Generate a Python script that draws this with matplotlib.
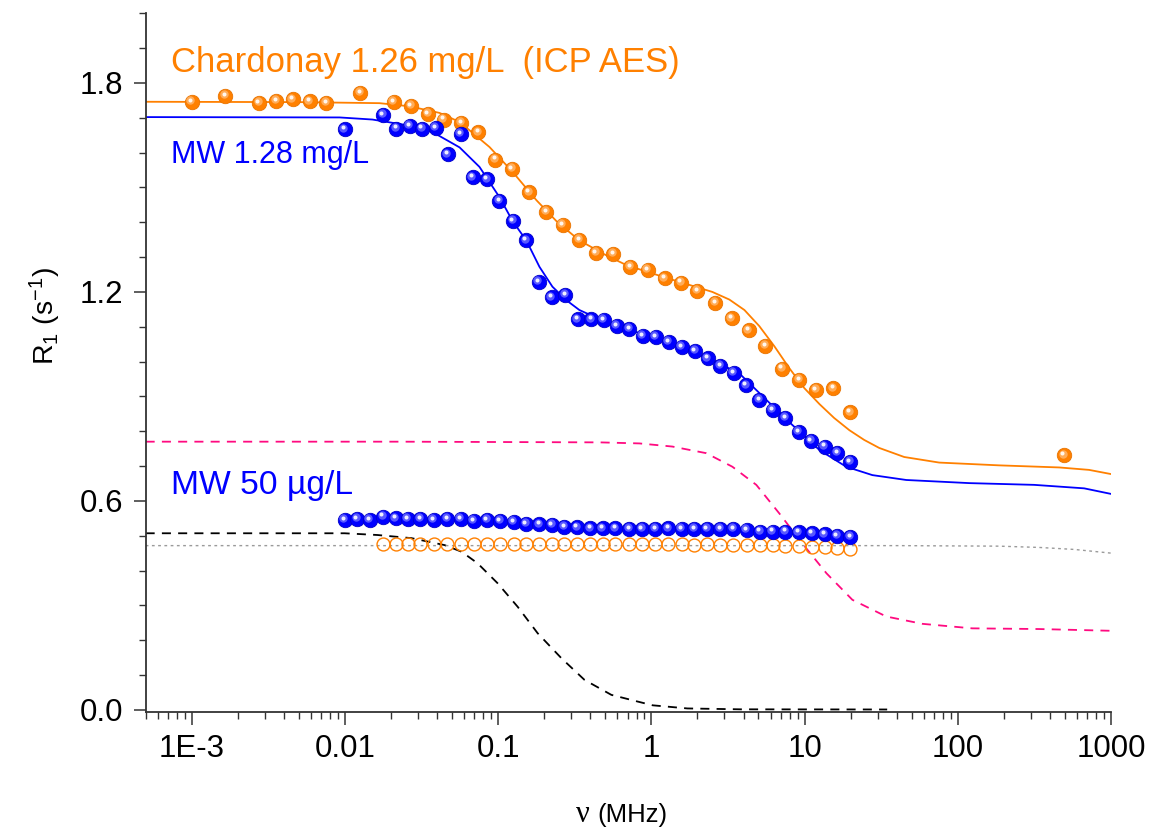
import matplotlib
matplotlib.use('Agg')
import matplotlib.pyplot as plt
from matplotlib.ticker import FixedLocator, FixedFormatter, MultipleLocator, LogLocator, NullFormatter
from matplotlib.transforms import offset_copy

plt.rcParams['font.family'] = ['Liberation Sans', 'DejaVu Sans']
plt.rcParams['mathtext.fontset'] = 'custom'
plt.rcParams['mathtext.rm'] = 'Liberation Sans'
plt.rcParams['mathtext.it'] = 'Liberation Sans:italic'

# ---------------- data ----------------
# Chardonay 1.26 mg/L (filled orange balls)
chard_f = [0.001, 0.00166, 0.00275, 0.00357, 0.00457, 0.00588, 0.00755, 0.0126, 0.0208,
           0.0270, 0.0348, 0.0440, 0.0574, 0.0743, 0.0959, 0.123, 0.159, 0.206, 0.264,
           0.339, 0.436, 0.565, 0.730, 0.946, 1.22, 1.56, 2.00, 2.61, 3.34, 4.32, 5.55,
           7.13, 9.23, 11.9, 15.4, 19.8, 494]
chard_r = [1.745, 1.762, 1.743, 1.748, 1.753, 1.747, 1.743, 1.771, 1.745, 1.734, 1.712,
           1.695, 1.686, 1.658, 1.580, 1.554, 1.486, 1.430, 1.392, 1.349, 1.312, 1.310,
           1.272, 1.263, 1.239, 1.227, 1.203, 1.169, 1.124, 1.090, 1.045, 0.980, 0.947,
           0.918, 0.923, 0.854, 0.731]

# MW 1.28 mg/L (filled blue balls)
mw_f = [0.00993, 0.0177, 0.0216, 0.0264, 0.0319, 0.0390, 0.0469, 0.0568, 0.0682, 0.0847,
        0.102, 0.125, 0.152, 0.184, 0.224, 0.274, 0.330, 0.405, 0.489, 0.594, 0.718, 0.877,
        1.07, 1.30, 1.58, 1.93, 2.33, 2.82, 3.44, 4.15, 5.06, 6.18, 7.48, 9.14, 11.0, 13.5,
        16.4, 19.8]
mw_r = [1.667, 1.709, 1.669, 1.676, 1.669, 1.671, 1.595, 1.653, 1.529, 1.523, 1.461, 1.404,
        1.348, 1.229, 1.184, 1.191, 1.121, 1.121, 1.119, 1.102, 1.093, 1.073, 1.071, 1.057,
        1.042, 1.031, 1.009, 0.988, 0.968, 0.932, 0.890, 0.862, 0.838, 0.798, 0.773, 0.756,
        0.737, 0.712]

# MW 50 ug/L (filled blue balls)
mw50_f = [0.00993, 0.0120, 0.0145, 0.0177, 0.0214, 0.0257, 0.0311, 0.0380, 0.0465, 0.0568,
          0.0693, 0.0847, 0.103, 0.126, 0.152, 0.186, 0.225, 0.270, 0.327, 0.400, 0.481,
          0.582, 0.719, 0.870, 1.06, 1.29, 1.58, 1.91, 2.31, 2.82, 3.43, 4.18, 5.12, 6.19,
          7.48, 9.14, 11.2, 13.5, 16.3, 19.9]
mw50_r = [0.545, 0.548, 0.545, 0.555, 0.550, 0.548, 0.548, 0.545, 0.548, 0.548, 0.542, 0.545,
          0.542, 0.539, 0.534, 0.533, 0.531, 0.526, 0.524, 0.521, 0.521, 0.521, 0.519, 0.519,
          0.519, 0.521, 0.519, 0.519, 0.519, 0.519, 0.519, 0.516, 0.512, 0.512, 0.512, 0.510,
          0.507, 0.504, 0.500, 0.496]

# open orange circles
open_f = [0.0177, 0.0214, 0.0257, 0.0311, 0.0380, 0.0465, 0.0568, 0.0693, 0.0847, 0.103,
          0.126, 0.152, 0.186, 0.225, 0.270, 0.327, 0.400, 0.481, 0.582, 0.719, 0.870, 1.06,
          1.29, 1.58, 1.91, 2.31, 2.82, 3.43, 4.18, 5.12, 6.19, 7.48, 9.14, 11.2, 13.5, 16.3,
          19.9]
open_r = [0.476, 0.476, 0.477, 0.476, 0.476, 0.475, 0.476, 0.476, 0.476, 0.476, 0.476, 0.476,
          0.475, 0.476, 0.476, 0.476, 0.475, 0.475, 0.476, 0.475, 0.475, 0.476, 0.475, 0.475,
          0.474, 0.475, 0.474, 0.474, 0.474, 0.473, 0.472, 0.471, 0.470, 0.469, 0.467, 0.465,
          0.463]

# fitted curves
fit_or_f = [5e-4, 0.00506, 0.0168, 0.0264, 0.0414, 0.0560, 0.0878, 0.124, 0.178, 0.244,
            0.339, 0.493, 0.687, 1.05, 1.52, 2.50, 3.23, 4.05, 5.06, 6.35, 7.95, 9.95,
            12.5, 15.6, 19.6, 24.5, 30.7, 44.7, 75.6, 186, 459, 719, 1000]
fit_or_r = [1.746, 1.745, 1.742, 1.733, 1.714, 1.688, 1.616, 1.545, 1.463, 1.400, 1.348,
            1.308, 1.277, 1.251, 1.229, 1.200, 1.178, 1.148, 1.102, 1.044, 0.981, 0.924,
            0.878, 0.838, 0.803, 0.775, 0.752, 0.726, 0.710, 0.702, 0.696, 0.689, 0.677]

fit_bl_f = [5e-4, 0.00923, 0.0151, 0.0252, 0.0373, 0.0560, 0.0755, 0.102, 0.124, 0.153,
            0.186, 0.226, 0.279, 0.339, 0.557, 0.928, 1.52, 2.50, 3.75, 5.63, 7.95, 12.5,
            18.7, 27.7, 46.1, 119, 315, 668, 1000]
fit_bl_r = [1.702, 1.701, 1.695, 1.679, 1.659, 1.615, 1.559, 1.472, 1.404, 1.347, 1.272,
            1.215, 1.176, 1.148, 1.105, 1.076, 1.042, 1.004, 0.966, 0.890, 0.826, 0.746,
            0.698, 0.674, 0.660, 0.651, 0.646, 0.636, 0.620]

pink_f = [5e-4, 0.0227, 0.46, 0.835, 1.37, 2.28, 3.38, 4.84, 6.84, 9.66, 13.9, 20.5, 34.1,
          58.6, 124, 340, 1000]
pink_r = [0.770, 0.770, 0.768, 0.765, 0.756, 0.737, 0.698, 0.646, 0.564, 0.478, 0.392,
          0.316, 0.268, 0.247, 0.234, 0.232, 0.227]

black_f = [5e-4, 0.00993, 0.0163, 0.0272, 0.0447, 0.0577, 0.0733, 0.0989, 0.134, 0.181,
           0.259, 0.366, 0.548, 0.810, 1.02, 1.72, 3.81, 34.6]
black_r = [0.507, 0.507, 0.502, 0.493, 0.473, 0.454, 0.421, 0.364, 0.296, 0.220, 0.148,
           0.086, 0.043, 0.024, 0.013, 0.004, 0.0015, 0.001]

grey_f = [5e-4, 41.5, 186, 340, 575, 1000]
grey_r = [0.4715, 0.4715, 0.470, 0.4663, 0.4606, 0.450]

xtick_vals = [1e-3, 1e-2, 1e-1, 1, 10, 100, 1000]
xtick_labels = ['1E-3', '0.01', '0.1', '1', '10', '100', '1000']
ytick_vals = [0.0, 0.6, 1.2, 1.8]
ytick_labels = ['0.0', '0.6', '1.2', '1.8']

# ---------------- styling ----------------
ORANGE = '#FF8000'
BLUE = '#0000FF'
PINK = '#FF0A80'

fig = plt.figure(figsize=(11.55, 8.32), dpi=100)
ax = fig.add_axes([0.1261, 0.1439, 0.8358, 0.8401])
ax.set_xscale('log')
ax.set_xlim(5e-4, 1000)
ax.set_ylim(-0.007, 2.0)

# curves
ax.plot(fit_or_f, fit_or_r, color=ORANGE, lw=1.3, zorder=2)
ax.plot(fit_bl_f, fit_bl_r, color=BLUE, lw=1.3, zorder=2)
ax.plot(pink_f, pink_r, color=PINK, lw=1.3, ls=(0, (5, 4)), zorder=2)
ax.plot(black_f, black_r, color='black', lw=1.3, ls=(0, (5, 4)), zorder=2)
ax.plot(grey_f, grey_r, color='#9a9a9a', lw=1.0, ls=(0, (2, 2.5)), zorder=2)


def spheres(x, y, color, edge, ms, z):
    ax.plot(x, y, 'o', ms=ms, mfc=color, mec=edge, mew=0.6, ls='none', zorder=z,
            clip_on=False)
    tr1 = offset_copy(ax.transData, fig=fig, x=-1.4, y=1.7, units='dots')
    ax.plot(x, y, 'o', ms=ms * 0.58, mfc='white', mew=0, alpha=0.35, ls='none',
            zorder=z + 0.1, transform=tr1, clip_on=False)
    tr2 = offset_copy(ax.transData, fig=fig, x=-1.7, y=2.1, units='dots')
    ax.plot(x, y, 'o', ms=ms * 0.28, mfc='white', mew=0, alpha=0.9, ls='none',
            zorder=z + 0.2, transform=tr2, clip_on=False)


ax.plot(open_f, open_r, 'o', ms=9.3, mfc='none', mec=ORANGE, mew=1.0, ls='none', zorder=3)
spheres(chard_f, chard_r, ORANGE, '#E87400', 10.4, 4)
spheres(mw_f, mw_r, BLUE, '#0000C8', 10.4, 5)
spheres(mw50_f, mw50_r, BLUE, '#0000C8', 10.4, 5)

# annotations
fig.text(171 / 1155, 1 - 71.7 / 832, 'Chardonay 1.26 mg/L  (ICP AES)', fontsize=24.9,
         color=ORANGE, ha='left', va='baseline')
fig.text(171 / 1155, 1 - 163.3 / 832, 'MW 1.28 mg/L', fontsize=22, color=BLUE,
         ha='left', va='baseline')
fig.text(171 / 1155, 1 - 494 / 832, 'MW 50 µg/L', fontsize=24.2, color=BLUE,
         ha='left', va='baseline')

# axes styling
for s in ['top', 'right']:
    ax.spines[s].set_visible(False)
for s in ['left', 'bottom']:
    ax.spines[s].set_color('#333333')
    ax.spines[s].set_linewidth(1.3)

ax.xaxis.set_major_locator(FixedLocator(xtick_vals))
ax.xaxis.set_major_formatter(FixedFormatter(xtick_labels))
ax.xaxis.set_minor_locator(LogLocator(base=10, subs=[2, 3, 4, 5, 6, 7, 8, 9], numticks=20))
ax.xaxis.set_minor_formatter(NullFormatter())
ax.yaxis.set_major_locator(FixedLocator(ytick_vals))
ax.yaxis.set_major_formatter(FixedFormatter(ytick_labels))
ax.yaxis.set_minor_locator(MultipleLocator(0.1))

ax.tick_params(axis='both', which='major', direction='out', length=9, width=1.1,
               color='#333333', labelsize=22.5, labelcolor='black')
ax.tick_params(axis='both', which='minor', direction='out', length=5, width=1.0,
               color='#333333')
ax.tick_params(axis='x', which='major', pad=7)
ax.tick_params(axis='y', which='major', pad=7)

fig.text(45 / 1155, 1 - 316 / 832, r'R$_1$ (s$^{-1}$)', rotation=90, fontsize=20.5,
         ha='center', va='center')
fig.text(590 / 1155, 1 - 822 / 832, 'ν', fontsize=22, family=['Liberation Serif', 'DejaVu Serif'],
         ha='right', va='baseline')
fig.text(597 / 1155, 1 - 822 / 832, '(MHz)', fontsize=18.5, ha='left', va='baseline')

fig.savefig('out.png', dpi=100)
